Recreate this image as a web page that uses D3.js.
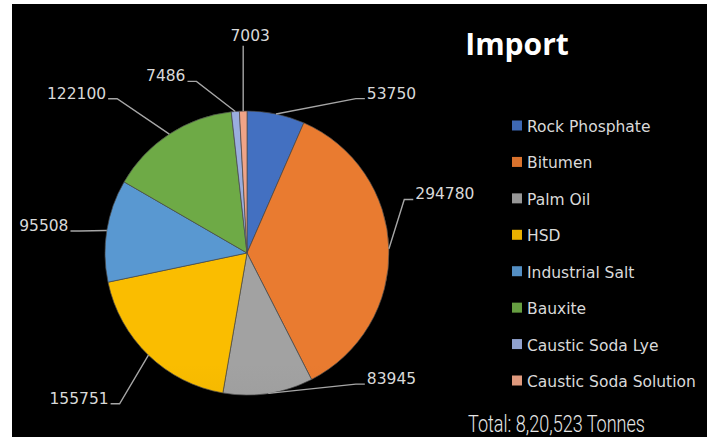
<!DOCTYPE html>
<html>
<head>
  <meta charset="utf-8">
  <title>Import</title>
  <script src="https://d3js.org/d3.v7.min.js"></script>
  <style>
    body { margin: 0; background: #fff; }
  </style>
</head>
<body>
<script>

// chart data
var categories = ["Rock Phosphate", "Bitumen", "Palm Oil", "HSD", "Industrial Salt", "Bauxite", "Caustic Soda Lye", "Caustic Soda Solution"];
var values = [53750, 294780, 83945, 155751, 95508, 122100, 7486, 7003];
var colors = ["#4472C4", "#ED7D31", "#A5A5A5", "#FFC000", "#5B9BD5", "#70AD47", "#9DB1E2", "#F4A789"];
var title = "Import";
var totalNote = "Total: 8,20,523 Tonnes";

// where each data label sits: elbow angle (deg), radius factor, side
var labelLayout = [
  { a: 35.2, k: 1.33, side: "right" },
  { a: 71.2, k: 1.17, side: "right" },
  { a: 140.3, k: 1.20, side: "right" },
  { a: 220.2, k: 1.39, side: "left" },
  { a: 277.5, k: 1.19, side: "left" },
  { a: 319.9, k: 1.42, side: "left" },
  { a: 343.6, k: 1.26, side: "left" },
  { a: 359.2, k: 1.46, side: "top" }
];

var width = 713, height = 437;
var cx = 247, cy = 253, r = 142;

var svg = d3.select("body").append("svg")
    .attr("width", width)
    .attr("height", height);

svg.append("rect")
    .attr("x", 12).attr("y", 4)
    .attr("width", 695).attr("height", 433)
    .attr("fill", "#000");

var defs = svg.append("defs");
colors.forEach(function(c, i) {
  var g = defs.append("linearGradient")
      .attr("id", "grad" + i)
      .attr("gradientUnits", "userSpaceOnUse")
      .attr("x1", 0).attr("y1", cy - r)
      .attr("x2", 0).attr("y2", cy + r);
  g.append("stop").attr("offset", "0%").attr("stop-color", d3.color(c).darker(0.05));
  g.append("stop").attr("offset", "100%").attr("stop-color", d3.color(c).darker(0.6));
});

var data = categories.map(function(name, i) { return { name: name, value: values[i], i: i }; });

var pie = d3.pie().sort(null).value(function(d) { return d.value; });
var arc = d3.arc().innerRadius(0).outerRadius(r);
var arcs = pie(data);

var g = svg.append("g").attr("transform", "translate(" + cx + "," + cy + ")");

g.selectAll("path.slice")
  .data(arcs)
  .enter().append("path")
    .attr("class", "slice")
    .attr("d", arc)
    .attr("fill", function(d) { return "url(#grad" + d.data.i + ")"; })
    .attr("stroke", "#4a4a4a")
    .attr("stroke-width", 0.7);

// leader lines + labels
function polar(angleDeg, rad) {
  var a = angleDeg * Math.PI / 180;
  return [rad * Math.sin(a), -rad * Math.cos(a)];
}

var fmt = d3.format("d");

arcs.forEach(function(d, i) {
  var mid = (d.startAngle + d.endAngle) / 2 * 180 / Math.PI;
  var p0 = polar(mid, r);
  var lay = labelLayout[i];
  var p1 = polar(lay.a, r * lay.k);
  var pts = [p0, p1];
  var tx = p1[0], ty = p1[1], anchor = "middle";
  if (lay.side === "right") {
    pts.push([p1[0] + 9, p1[1]]);
    tx = p1[0] + 11; anchor = "start";
  } else if (lay.side === "left") {
    pts.push([p1[0] - 9, p1[1]]);
    tx = p1[0] - 11; anchor = "end";
  } else {
    p1[0] = p0[0];
    tx = p1[0] + 7; ty = p1[1] - 5;
  }

  g.append("path")
    .attr("d", d3.line()(pts))
    .attr("fill", "none")
    .attr("stroke", "#a6a6a6")
    .attr("stroke-width", 1.4);

  g.append("text")
    .attr("x", tx)
    .attr("y", ty)
    .attr("text-anchor", anchor)
    .attr("fill", "#d9d9d9")
    .style("font-family", "DejaVu Sans, sans-serif")
    .style("font-size", "15.5px")
    .text(fmt(d.data.value));
});

// title
svg.append("text")
    .attr("x", 517)
    .attr("y", 55)
    .attr("text-anchor", "middle")
    .attr("fill", "#fff")
    .style("font-family", "Open Sans, sans-serif")
    .style("font-weight", "bold")
    .style("font-size", "30px")
    .text(title);

// legend
var legendY = d3.scalePoint().domain(categories).range([126, 381]);
var legend = svg.append("g").selectAll("g")
  .data(data)
  .enter().append("g")
    .attr("transform", function(d) { return "translate(512," + legendY(d.name) + ")"; });

legend.append("rect")
    .attr("x", 0).attr("y", -5.5)
    .attr("width", 10).attr("height", 10)
    .attr("fill", function(d) { return d3.color(colors[d.i]).darker(0.25); });

legend.append("text")
    .attr("x", 15)
    .attr("y", 6)
    .attr("fill", "#d9d9d9")
    .style("font-family", "DejaVu Sans, sans-serif")
    .style("font-size", "15.5px")
    .text(function(d) { return d.name; });

// total note
svg.append("text")
    .attr("x", 468)
    .attr("y", 432)
    .attr("fill", "#e6e6e6")
    .attr("textLength", 177)
    .attr("lengthAdjust", "spacingAndGlyphs")
    .style("font-family", "Roboto, sans-serif")
    .style("font-weight", "300")
    .style("font-size", "23px")
    .text(totalNote);

</script>
</body>
</html>
